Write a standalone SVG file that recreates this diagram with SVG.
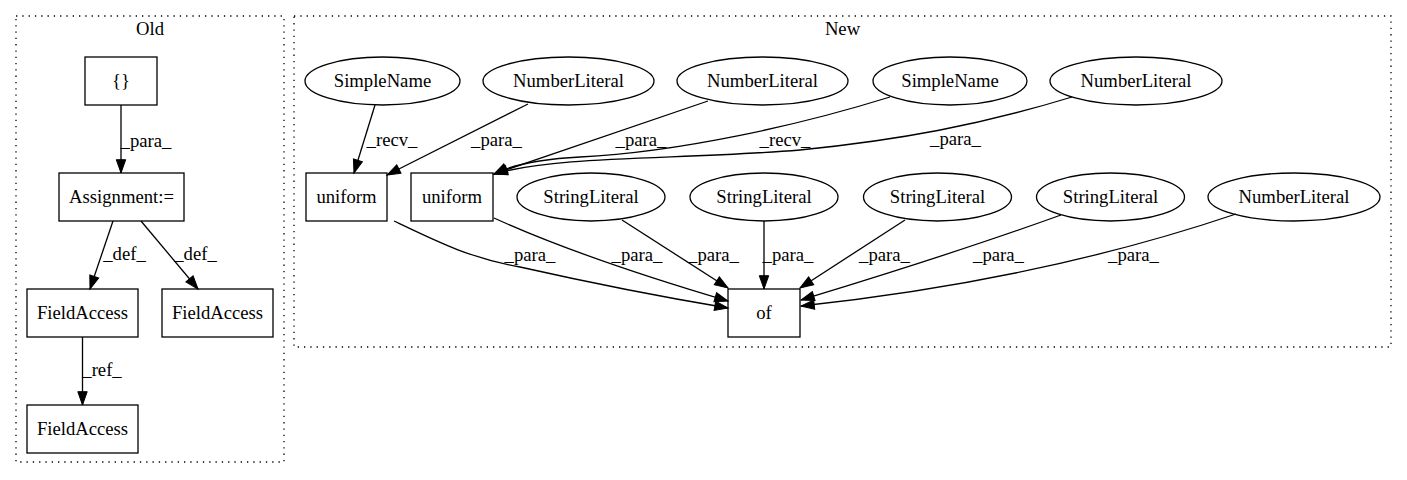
<svg xmlns="http://www.w3.org/2000/svg" width="1407" height="480" viewBox="0 0 1407 480">
<style>
text{font-family:"Liberation Serif",Tinos,"Times New Roman",Times,"DejaVu Serif",serif;font-size:18.67px;fill:#000;text-anchor:middle}
.n{fill:none;stroke:#000;stroke-width:1.3}
.c{fill:none;stroke:#000;stroke-width:1.3;stroke-dasharray:1.3,5}
.e{fill:none;stroke:#000;stroke-width:1.3;marker-end:url(#ah)}
</style>
<defs>
<marker id="ah" markerUnits="userSpaceOnUse" markerWidth="16" markerHeight="12" viewBox="0 -6 14 12" refX="13.3" refY="0" orient="auto">
<path d="M0,-4.7 L13.3,0 L0,4.7 z" fill="#000" stroke="#000" stroke-width="1"/>
</marker>
</defs>
<rect width="1407" height="480" fill="#fff"/>
<g id="cluster_old">
<rect class="c" x="16" y="16" width="268" height="446"/>
<text x="150" y="35" font-family="Liberation Serif, serif">Old</text>
</g>
<g id="cluster_new">
<rect class="c" x="294" y="16" width="1097" height="331"/>
<text x="842.5" y="35">New</text>
</g>
<g id="connectors">
<path class="e" d="M121,105 L121,173"/>
<text x="146" y="147">_para_</text>
<path class="e" d="M113,221 L90,289"/>
<text x="124.5" y="260">_def_</text>
<path class="e" d="M141,221 L198,289"/>
<text x="195.5" y="260">_def_</text>
<path class="e" d="M82.5,337 L82.5,405"/>
<text x="102" y="376">_ref_</text>
<path class="e" d="M375,105 L354,173"/>
<text x="392" y="146">_recv_</text>
<path class="e" d="M528,104 L387,175"/>
<text x="496.5" y="146">_para_</text>
<path class="e" d="M708,101 L494,174"/>
<text x="641" y="146">_para_</text>
<path class="e" d="M890,97 C800,125 680,152 580,157 C540,159 510,166 494,174"/>
<text x="785" y="146">_recv_</text>
<path class="e" d="M1072,97 C980,125 900,140 800,150 C680,160 560,155 494,174"/>
<text x="955.5" y="145">_para_</text>
<path class="e" d="M394,221 C440,243 470,258 520,267 C600,285 680,300 728,308"/>
<text x="530" y="261">_para_</text>
<path class="e" d="M494,218 C560,248 650,278 728,301"/>
<text x="637" y="261">_para_</text>
<path class="e" d="M622,220 L728,288"/>
<text x="713.5" y="261">_para_</text>
<path class="e" d="M764,221 L764,289"/>
<text x="788" y="261">_para_</text>
<path class="e" d="M905,220 L800,288"/>
<text x="884.5" y="261">_para_</text>
<path class="e" d="M1061,215 C950,255 850,285 801,300"/>
<text x="998.5" y="261">_para_</text>
<path class="e" d="M1236,214 C1100,260 950,290 801,306"/>
<text x="1133.5" y="261">_para_</text>
</g>
<g id="old_braces"><rect class="n" x="85" y="57" width="72" height="48"/><text x="121" y="87">{}</text></g>
<g id="old_assignment"><rect class="n" x="59" y="173" width="125" height="48"/><text x="121.5" y="203">Assignment:=</text></g>
<g id="old_fieldaccess1"><rect class="n" x="27" y="289" width="111" height="48"/><text x="82.5" y="319">FieldAccess</text></g>
<g id="old_fieldaccess2"><rect class="n" x="162" y="289" width="111" height="48"/><text x="217.5" y="319">FieldAccess</text></g>
<g id="old_fieldaccess3"><rect class="n" x="27" y="405" width="111" height="48"/><text x="82.5" y="435">FieldAccess</text></g>
<g id="new_simplename1"><ellipse class="n" cx="382.5" cy="81" rx="77.5" ry="24"/><text x="382.5" y="87">SimpleName</text></g>
<g id="new_numberliteral1"><ellipse class="n" cx="568.5" cy="81" rx="85.5" ry="24"/><text x="568.5" y="87">NumberLiteral</text></g>
<g id="new_numberliteral2"><ellipse class="n" cx="762.5" cy="81" rx="85.5" ry="24"/><text x="762.5" y="87">NumberLiteral</text></g>
<g id="new_simplename2"><ellipse class="n" cx="950" cy="81" rx="77" ry="24"/><text x="950" y="87">SimpleName</text></g>
<g id="new_numberliteral3"><ellipse class="n" cx="1136" cy="81" rx="86" ry="24"/><text x="1136" y="87">NumberLiteral</text></g>
<g id="new_uniform1"><rect class="n" x="306" y="173" width="81" height="48"/><text x="346.5" y="203">uniform</text></g>
<g id="new_uniform2"><rect class="n" x="411" y="173" width="82" height="48"/><text x="452" y="203">uniform</text></g>
<g id="new_stringliteral1"><ellipse class="n" cx="591" cy="197" rx="74" ry="24"/><text x="591" y="203">StringLiteral</text></g>
<g id="new_stringliteral2"><ellipse class="n" cx="764" cy="197" rx="74" ry="24"/><text x="764" y="203">StringLiteral</text></g>
<g id="new_stringliteral3"><ellipse class="n" cx="937.5" cy="197" rx="74" ry="24"/><text x="937.5" y="203">StringLiteral</text></g>
<g id="new_stringliteral4"><ellipse class="n" cx="1110.5" cy="197" rx="74" ry="24"/><text x="1110.5" y="203">StringLiteral</text></g>
<g id="new_numberliteral4"><ellipse class="n" cx="1294" cy="197" rx="86" ry="24"/><text x="1294" y="203">NumberLiteral</text></g>
<g id="new_of"><rect class="n" x="728" y="289" width="72" height="48"/><text x="764" y="319">of</text></g>
</svg>
